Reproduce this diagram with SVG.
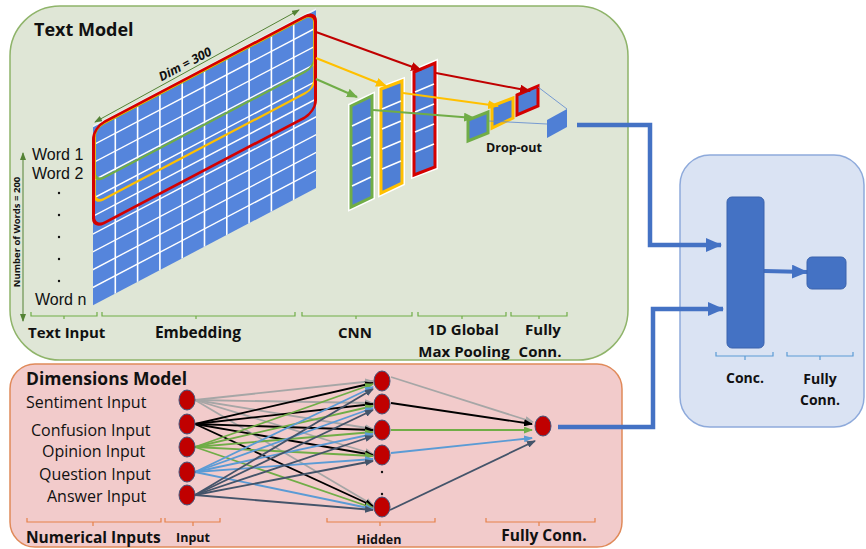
<svg xmlns="http://www.w3.org/2000/svg" width="866" height="549" viewBox="0 0 866 549">
<style>
text{font-family:"Open Sans","Liberation Sans",sans-serif;fill:#111}
.b{font-weight:bold}
.lbl{font-size:16px}
.wd{font-family:"Liberation Sans",Arial,sans-serif;font-size:16px}
.gbr{fill:none;stroke:#70ad47;stroke-width:1.2}
.obr{fill:none;stroke:#e5814a;stroke-width:1.2}
.bbr{fill:none;stroke:#5b9bd5;stroke-width:1.2}
.thick{fill:none;stroke:#4472c4;stroke-width:4.5}
.node{fill:#c00000;stroke:#44547a;stroke-width:1}
.gw{stroke:#fff;stroke-width:1.6}
</style>
<defs>
<marker id="mB" markerUnits="userSpaceOnUse" markerWidth="16" markerHeight="14" refX="15" refY="7" orient="auto"><path d="M0,0 L16,7 L0,14 z" fill="#4472c4"/></marker>
<marker id="mR" markerUnits="userSpaceOnUse" markerWidth="11" markerHeight="9" refX="10" refY="4.5" orient="auto"><path d="M0,0 L11,4.5 L0,9 z" fill="#c00000"/></marker>
<marker id="mY" markerUnits="userSpaceOnUse" markerWidth="11" markerHeight="9" refX="10" refY="4.5" orient="auto"><path d="M0,0 L11,4.5 L0,9 z" fill="#ffc000"/></marker>
<marker id="mG" markerUnits="userSpaceOnUse" markerWidth="11" markerHeight="9" refX="10" refY="4.5" orient="auto"><path d="M0,0 L11,4.5 L0,9 z" fill="#70ad47"/></marker>
<marker id="mDim" markerUnits="userSpaceOnUse" markerWidth="8" markerHeight="6" refX="7" refY="3" orient="auto-start-reverse"><path d="M0,0 L8,3 L0,6 z" fill="#548235"/></marker>
<marker id="aGr" markerUnits="userSpaceOnUse" markerWidth="9" markerHeight="7" refX="8" refY="3.5" orient="auto"><path d="M0,0 L9,3.5 L0,7 z" fill="#a6a6a6"/></marker>
<marker id="aBk" markerUnits="userSpaceOnUse" markerWidth="9" markerHeight="7" refX="8" refY="3.5" orient="auto"><path d="M0,0 L9,3.5 L0,7 z" fill="#000"/></marker>
<marker id="aGn" markerUnits="userSpaceOnUse" markerWidth="9" markerHeight="7" refX="8" refY="3.5" orient="auto"><path d="M0,0 L9,3.5 L0,7 z" fill="#70ad47"/></marker>
<marker id="aBl" markerUnits="userSpaceOnUse" markerWidth="9" markerHeight="7" refX="8" refY="3.5" orient="auto"><path d="M0,0 L9,3.5 L0,7 z" fill="#5b9bd5"/></marker>
<marker id="aSl" markerUnits="userSpaceOnUse" markerWidth="9" markerHeight="7" refX="8" refY="3.5" orient="auto"><path d="M0,0 L9,3.5 L0,7 z" fill="#44546a"/></marker>
</defs>

<!-- Panels -->
<g id="text-model">
<rect x="10" y="6" width="618" height="354" rx="50" fill="#dfe6d6" stroke="#8fb46a" stroke-width="1.5"/>
<text x="34" y="36" class="b" font-size="18">Text Model</text>
</g>
<g id="dimensions-model">
<rect x="10" y="364" width="612" height="183" rx="25" fill="#f2cbcb" stroke="#e08a5a" stroke-width="1.5"/>
<text x="26" y="385" class="b" font-size="17.5">Dimensions Model</text>
</g>
<g id="merge-panel">
<rect x="680" y="155" width="184" height="272" rx="30" fill="#dae3f3" stroke="#8eaadb" stroke-width="1.5"/>
</g>

<!-- Embedding grid -->
<g id="embedding">
<g transform="matrix(1,-0.525,0,1,0,0)">
<rect x="93" y="176" width="223" height="178" fill="#5585dc"/>
<g class="gw">
<line x1="115.3" y1="176" x2="115.3" y2="354"/><line x1="137.6" y1="176" x2="137.6" y2="354"/><line x1="159.9" y1="176" x2="159.9" y2="354"/><line x1="182.2" y1="176" x2="182.2" y2="354"/><line x1="204.5" y1="176" x2="204.5" y2="354"/><line x1="226.8" y1="176" x2="226.8" y2="354"/><line x1="249.1" y1="176" x2="249.1" y2="354"/><line x1="271.4" y1="176" x2="271.4" y2="354"/><line x1="293.7" y1="176" x2="293.7" y2="354"/>
<line x1="93" y1="193.8" x2="316" y2="193.8"/><line x1="93" y1="211.6" x2="316" y2="211.6"/><line x1="93" y1="229.4" x2="316" y2="229.4"/><line x1="93" y1="247.2" x2="316" y2="247.2"/><line x1="93" y1="265" x2="316" y2="265"/><line x1="93" y1="282.8" x2="316" y2="282.8"/><line x1="93" y1="300.6" x2="316" y2="300.6"/><line x1="93" y1="318.4" x2="316" y2="318.4"/><line x1="93" y1="336.2" x2="316" y2="336.2"/>
<line x1="93" y1="175" x2="316" y2="175" stroke="#eef2fa"/>
</g>
<rect x="94.5" y="178" width="220" height="54" rx="9" fill="none" stroke="#70ad47" stroke-width="2.5"/>
<rect x="94.5" y="177.5" width="220" height="76" rx="9" fill="none" stroke="#ffc000" stroke-width="2.5"/>
<rect x="93.5" y="176.5" width="222" height="101" rx="11" fill="none" stroke="#d40000" stroke-width="3"/>
</g>
<line x1="95" y1="122" x2="299" y2="10" stroke="#548235" stroke-width="1" marker-start="url(#mDim)" marker-end="url(#mDim)"/>
<text transform="translate(187,68) rotate(-28)" text-anchor="middle" class="b" font-style="italic" font-size="12.5">Dim = 300</text>
</g>

<g id="text-input">
<line x1="23" y1="153" x2="23" y2="321" stroke="#548235" stroke-width="1" marker-start="url(#mDim)" marker-end="url(#mDim)"/>
<text transform="translate(20,232) rotate(-90)" text-anchor="middle" class="b" font-size="9.5">Number of Words = 200</text>
<text x="32" y="160" class="wd">Word 1</text>
<text x="32" y="179" class="wd">Word 2</text>
<g fill="#111"><circle cx="59" cy="193" r="1.2"/><circle cx="59" cy="215" r="1.2"/><circle cx="59" cy="237" r="1.2"/><circle cx="59" cy="259" r="1.2"/><circle cx="59" cy="281" r="1.2"/></g>
<text x="35" y="305" class="wd">Word n</text>
</g>

<!-- CNN layers -->
<g id="cnn">
<polygon points="351,106 372,96 372,197 351,207" fill="#4f7fd5" stroke="#fff" stroke-width="6"/>
<polygon points="351,106 372,96 372,197 351,207" fill="#4f7fd5" stroke="#70ad47" stroke-width="3"/>
<g class="gw" stroke-width="1"><line x1="352" y1="126" x2="371" y2="117"/><line x1="352" y1="146" x2="371" y2="137"/><line x1="352" y1="166" x2="371" y2="157"/><line x1="352" y1="186" x2="371" y2="177"/></g>
<polygon points="381,89 402,81 402,183 381,193" fill="#4f7fd5" stroke="#fff" stroke-width="6"/>
<polygon points="381,89 402,81 402,183 381,193" fill="#4f7fd5" stroke="#ffc000" stroke-width="3"/>
<g class="gw" stroke-width="1"><line x1="382" y1="109" x2="401" y2="101"/><line x1="382" y1="129" x2="401" y2="121"/><line x1="382" y1="149" x2="401" y2="141"/><line x1="382" y1="169" x2="401" y2="161"/></g>
<polygon points="414,72 435,63 435,167 414,175" fill="#4f7fd5" stroke="#fff" stroke-width="6"/>
<polygon points="414,72 435,63 435,167 414,175" fill="#4f7fd5" stroke="#d40000" stroke-width="3"/>
<g class="gw" stroke-width="1"><line x1="415" y1="92" x2="434" y2="84"/><line x1="415" y1="112" x2="434" y2="104"/><line x1="415" y1="132" x2="434" y2="124"/><line x1="415" y1="152" x2="434" y2="144"/></g>
</g>

<g id="pooling">
<polygon points="468,120 488,112 488,133 468,141" fill="#4f7fd5" stroke="#70ad47" stroke-width="3"/>
<polygon points="492,106 513,98 513,118 492,128" fill="#4f7fd5" stroke="#ffc000" stroke-width="3"/>
<polygon points="517,95 538,86 538,106 517,115" fill="#4f7fd5" stroke="#d40000" stroke-width="3"/>
</g>

<g id="text-fc">
<polygon points="547,120 567,109 567,127 547,138" fill="#4f7fd5"/>
<line x1="538" y1="87" x2="567" y2="109" stroke="#5b86d0" stroke-width="0.8"/>
<line x1="489" y1="121" x2="547" y2="124" stroke="#5b86d0" stroke-width="0.8"/>
<text x="486" y="152" class="b" font-size="12.5">Drop-out</text>
</g>

<g id="text-model-labels">
<path class="gbr" d="M31,312 v4 h33 v3 m0,-3 h33 v-4"/>
<path class="gbr" d="M102,312 v4 h94 v3 m0,-3 h99 v-4"/>
<path class="gbr" d="M302,312 v4 h54 v3 m0,-3 h56 v-4"/>
<path class="gbr" d="M418,312 v4 h44 v3 m0,-3 h44 v-4"/>
<path class="gbr" d="M511,312 v4 h28 v3 m0,-3 h28 v-4"/>
<text x="28" y="338" class="b" font-size="15">Text Input</text>
<text x="198" y="338" class="b" font-size="15.5" text-anchor="middle">Embedding</text>
<text x="355" y="338" class="b" font-size="15" text-anchor="middle">CNN</text>
<text x="463" y="335" class="b" font-size="15" text-anchor="middle">1D Global</text>
<text x="464" y="357" class="b" font-size="15" text-anchor="middle">Max Pooling</text>
<text x="543" y="335" class="b" font-size="15" text-anchor="middle">Fully</text>
<text x="540" y="357" class="b" font-size="15" text-anchor="middle">Conn.</text>
</g>

<!-- Dimensions model nodes -->
<g id="dim-inputs">
<text x="26" y="408" class="lbl">Sentiment Input</text>
<text x="31" y="436" class="lbl">Confusion Input</text>
<text x="42" y="457" class="lbl">Opinion Input</text>
<text x="39" y="480" class="lbl">Question Input</text>
<text x="47" y="502" class="lbl">Answer Input</text>
</g>

<g id="connectors">
<!-- text model arrows -->
<line x1="316" y1="32" x2="421" y2="70" stroke="#c00000" stroke-width="2" marker-end="url(#mR)"/>
<line x1="316" y1="58" x2="386" y2="86" stroke="#ffc000" stroke-width="2" marker-end="url(#mY)"/>
<line x1="316" y1="79" x2="357" y2="97" stroke="#70ad47" stroke-width="2" marker-end="url(#mG)"/>
<line x1="436" y1="73" x2="530" y2="91" stroke="#c00000" stroke-width="2" marker-end="url(#mR)"/>
<line x1="403" y1="93" x2="498" y2="106" stroke="#ffc000" stroke-width="2" marker-end="url(#mY)"/>
<line x1="373" y1="110" x2="474" y2="118" stroke="#70ad47" stroke-width="2" marker-end="url(#mG)"/>
<!-- thick blue connectors -->
<polyline class="thick" points="577,125 650,125 650,245 721,245" marker-end="url(#mB)"/>
<polyline class="thick" points="558,427 653,427 653,309 723,309" marker-end="url(#mB)"/>
<line x1="764" y1="271" x2="807" y2="272" stroke="#4472c4" stroke-width="4" marker-end="url(#mB)"/>
<!-- input to hidden -->
<g stroke-width="1.8" fill="none">
<g stroke="#a6a6a6" marker-end="url(#aGr)">
<line x1="195" y1="400" x2="373" y2="381"/><line x1="195" y1="400" x2="373" y2="403"/><line x1="195" y1="400" x2="373" y2="429"/><line x1="195" y1="400" x2="373" y2="454"/><line x1="195" y1="400" x2="373" y2="505"/>
</g>
<g stroke="#000" marker-end="url(#aBk)">
<line x1="195" y1="424" x2="373" y2="383"/><line x1="195" y1="424" x2="373" y2="404"/><line x1="195" y1="424" x2="373" y2="430"/><line x1="195" y1="424" x2="373" y2="455"/><line x1="195" y1="424" x2="373" y2="506"/>
</g>
<g stroke="#70ad47" marker-end="url(#aGn)">
<line x1="195" y1="447" x2="373" y2="384"/><line x1="195" y1="447" x2="373" y2="406"/><line x1="195" y1="447" x2="373" y2="432"/><line x1="195" y1="447" x2="373" y2="456"/><line x1="195" y1="447" x2="373" y2="508"/>
</g>
<g stroke="#5b9bd5" marker-end="url(#aBl)">
<line x1="195" y1="472" x2="373" y2="387"/><line x1="195" y1="472" x2="373" y2="408"/><line x1="195" y1="472" x2="373" y2="434"/><line x1="195" y1="472" x2="373" y2="459"/><line x1="195" y1="472" x2="373" y2="509"/>
</g>
<g stroke="#44546a" marker-end="url(#aSl)">
<line x1="195" y1="495" x2="373" y2="389"/><line x1="195" y1="495" x2="373" y2="410"/><line x1="195" y1="495" x2="373" y2="436"/><line x1="195" y1="495" x2="373" y2="461"/><line x1="195" y1="495" x2="373" y2="510"/>
</g>
<!-- hidden to output -->
<line x1="391" y1="377" x2="533" y2="422" stroke="#a6a6a6" marker-end="url(#aGr)"/>
<line x1="391" y1="403" x2="532" y2="424" stroke="#000" marker-end="url(#aBk)"/>
<line x1="391" y1="430" x2="532" y2="430" stroke="#70ad47" marker-end="url(#aGn)"/>
<line x1="391" y1="453" x2="532" y2="438" stroke="#5b9bd5" marker-end="url(#aBl)"/>
<line x1="390" y1="510" x2="535" y2="441" stroke="#44546a" marker-end="url(#aSl)"/>
</g>
</g>

<g id="dim-input-nodes">
<ellipse class="node" cx="187" cy="400" rx="8" ry="10"/>
<ellipse class="node" cx="187" cy="424" rx="8" ry="10"/>
<ellipse class="node" cx="187" cy="447" rx="8" ry="10"/>
<ellipse class="node" cx="187" cy="472" rx="8" ry="10"/>
<ellipse class="node" cx="187" cy="495" rx="8" ry="10"/>
</g>
<g id="dim-hidden-nodes">
<ellipse class="node" cx="382" cy="381" rx="8" ry="10"/>
<ellipse class="node" cx="382" cy="404" rx="8" ry="10"/>
<ellipse class="node" cx="382" cy="430" rx="8" ry="10"/>
<ellipse class="node" cx="382" cy="455" rx="8" ry="10"/>
<ellipse class="node" cx="382" cy="507" rx="8" ry="10"/>
<circle cx="382" cy="472" r="1.2" fill="#111"/>
<circle cx="382" cy="494" r="1.2" fill="#111"/>
</g>
<g id="dim-output-node">
<ellipse class="node" cx="543" cy="426" rx="8" ry="10"/>
</g>

<g id="dim-labels">
<path class="obr" d="M27,518 v4 h66 v4 m0,-4 h68 v-4"/>
<path class="obr" d="M165,518 v4 h28 v4 m0,-4 h27 v-4"/>
<path class="obr" d="M327,518 v4 h53 v4 m0,-4 h55 v-4"/>
<path class="obr" d="M486,518 v4 h53 v4 m0,-4 h56 v-4"/>
<text x="26" y="543" class="b" font-size="15.5">Numerical Inputs</text>
<text x="193" y="542" class="b" font-size="12.5" text-anchor="middle">Input</text>
<text x="379" y="544" class="b" font-size="12.5" text-anchor="middle">Hidden</text>
<text x="544" y="541" class="b" font-size="15.5" text-anchor="middle">Fully Conn.</text>
</g>

<g id="concat">
<rect x="727" y="197" width="37" height="151" rx="5" fill="#4472c4" stroke="#3a63ad" stroke-width="1"/>
<path class="bbr" d="M716,352 v4 h29 v4 m0,-4 h28 v-4"/>
<text x="745" y="383" class="b" font-size="14" text-anchor="middle">Conc.</text>
</g>
<g id="final-fc">
<rect x="807" y="257" width="39" height="32" rx="5" fill="#4472c4" stroke="#3a63ad" stroke-width="1"/>
<path class="bbr" d="M787,352 v4 h33 v4 m0,-4 h33 v-4"/>
<text x="820" y="384" class="b" font-size="14" text-anchor="middle">Fully</text>
<text x="820" y="405" class="b" font-size="14" text-anchor="middle">Conn.</text>
</g>
</svg>
